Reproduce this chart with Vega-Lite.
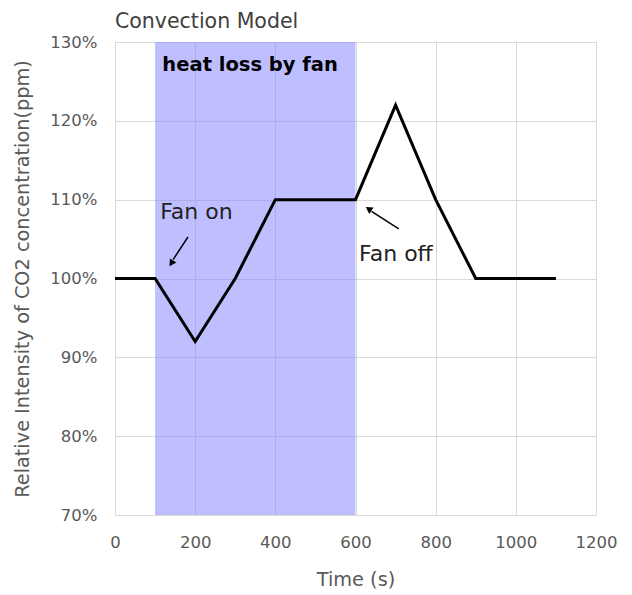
{
  "$schema": "https://vega.github.io/schema/vega-lite/v6.json",
  "autosize": "none",
  "width": 481,
  "height": 473,
  "padding": {"left": 115, "top": 42, "right": 36, "bottom": 80},
  "background": "white",
  "title": {"text": "Convection Model", "anchor": "start", "frame": "group", "fontSize": 20.5, "fontWeight": "normal", "font": "DejaVu Sans", "color": "#404040", "offset": 2},
  "config": {
    "view": {"stroke": null},
    "axis": {"labelFont": "DejaVu Sans", "titleFont": "DejaVu Sans", "labelFontSize": 16.5, "titleFontSize": 19.3, "labelColor": "#595959", "titleColor": "#595959", "titleFontWeight": "normal", "gridColor": "#d9d9d9", "domainColor": "#d9d9d9", "ticks": false, "labelFlush": false}
  },
  "datasets": {
    "series": [
      {"t": 0, "v": 1.0}, {"t": 100, "v": 1.0}, {"t": 200, "v": 0.92}, {"t": 300, "v": 1.0},
      {"t": 400, "v": 1.1}, {"t": 600, "v": 1.1}, {"t": 700, "v": 1.22}, {"t": 800, "v": 1.1},
      {"t": 900, "v": 1.0}, {"t": 1100, "v": 1.0}
    ],
    "band": [{"start": 100, "end": 600, "lo": 0.7, "hi": 1.3}]
  },
  "layer": [
    {
      "data": {"name": "band"},
      "mark": {"type": "rect", "fill": "#8080ff", "opacity": 0.5},
      "encoding": {
        "x": {"field": "start", "type": "quantitative", "scale": {"domain": [0, 1200]}, "axis": {"title": "Time (s)", "format": "d", "values": [0, 200, 400, 600, 800, 1000, 1200], "labelPadding": 19, "titlePadding": 20, "grid": true}},
        "x2": {"field": "end"},
        "y": {"field": "lo", "type": "quantitative", "scale": {"domain": [0.7, 1.3]}, "axis": {"title": "Relative Intensity of CO2 concentration(ppm)", "format": ".0%", "values": [0.7, 0.8, 0.9, 1.0, 1.1, 1.2, 1.3], "labelPadding": 18, "titlePadding": 17, "domain": false, "grid": true}},
        "y2": {"field": "hi"}
      }
    },
    {
      "data": {"name": "series"},
      "mark": {"type": "line", "color": "black", "strokeWidth": 3},
      "encoding": {
        "x": {"field": "t", "type": "quantitative"},
        "y": {"field": "v", "type": "quantitative"}
      }
    },
    {
      "data": {"values": [{"x": 337, "y": 1.2632, "label": "heat loss by fan"}]},
      "mark": {"type": "text", "font": "DejaVu Sans", "fontSize": 19.5, "fontWeight": "bold", "color": "black", "baseline": "alphabetic"},
      "encoding": {"x": {"field": "x", "type": "quantitative"}, "y": {"field": "y", "type": "quantitative"}, "text": {"field": "label"}}
    },
    {
      "data": {"values": [{"x": 203, "y": 1.0755, "label": "Fan on"}]},
      "mark": {"type": "text", "font": "DejaVu Sans", "fontSize": 22, "color": "#222222", "baseline": "alphabetic"},
      "encoding": {"x": {"field": "x", "type": "quantitative"}, "y": {"field": "y", "type": "quantitative"}, "text": {"field": "label"}}
    },
    {
      "data": {"values": [{"x": 609, "y": 1.0222, "label": "Fan off"}]},
      "mark": {"type": "text", "font": "DejaVu Sans", "fontSize": 22, "color": "#222222", "baseline": "alphabetic", "align": "left"},
      "encoding": {"x": {"field": "x", "type": "quantitative"}, "y": {"field": "y", "type": "quantitative"}, "text": {"field": "label"}}
    },
    {
      "data": {"values": [{"x": 182, "y": 1.0526, "x2": 145, "y2": 1.024}, {"x": 708, "y": 1.0628, "x2": 640, "y2": 1.085}]},
      "mark": {"type": "rule", "color": "black", "strokeWidth": 1.5},
      "encoding": {"x": {"field": "x", "type": "quantitative"}, "y": {"field": "y", "type": "quantitative"}, "x2": {"field": "x2"}, "y2": {"field": "y2"}}
    },
    {
      "data": {"values": [{"x": 142, "y": 1.0205}]},
      "mark": {"type": "point", "shape": "triangle", "filled": true, "color": "black", "size": 60, "angle": 212, "opacity": 1},
      "encoding": {"x": {"field": "x", "type": "quantitative"}, "y": {"field": "y", "type": "quantitative"}}
    },
    {
      "data": {"values": [{"x": 635, "y": 1.0875}]},
      "mark": {"type": "point", "shape": "triangle", "filled": true, "color": "black", "size": 60, "angle": 304, "opacity": 1},
      "encoding": {"x": {"field": "x", "type": "quantitative"}, "y": {"field": "y", "type": "quantitative"}}
    }
  ]
}
